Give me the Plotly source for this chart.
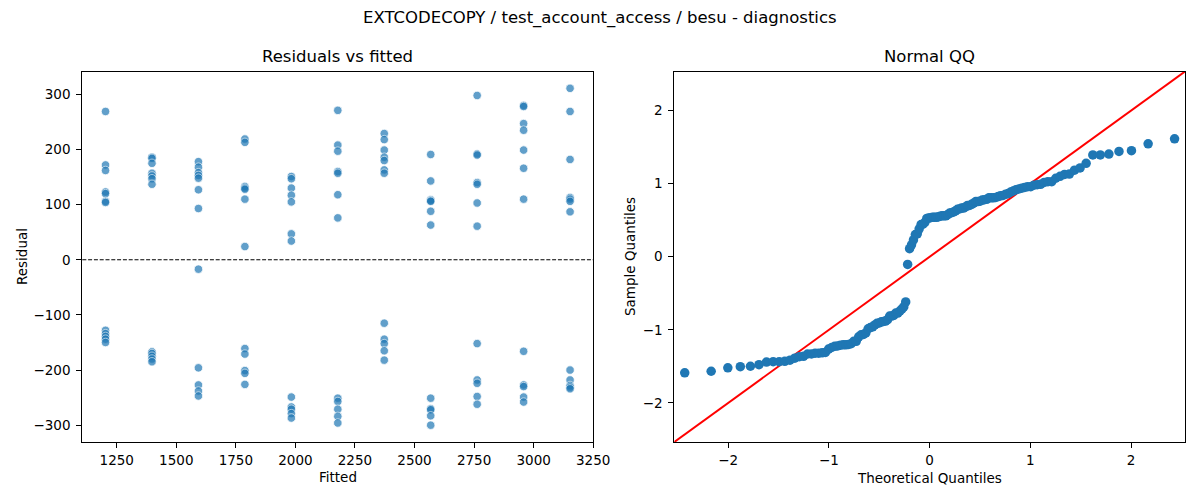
import plotly.graph_objects as go
from statistics import NormalDist, mean, pstdev

# ---- data ----
fitted_levels = [1203, 1398, 1593, 1788, 1983, 2178, 2373, 2568, 2763, 2958, 3153]

r01 = [269, 172, 162, 123, 120, 106, 104, -128, -134, -139, -144, -150]
r02 = [186, 184, 175, 157, 152, 147, 137, -167, -170, -175, -180, -185]
r03 = [178, 168, 158, 153, 148, 127, 93, -17, -196, -227, -238, -247]
r04 = [219, 213, 133, 130, 128, 110, 24, -161, -171, -201, -206, -226]
r05 = [151, 147, 130, 117, 105, 47, 34, -249, -267, -271, -279, -287]
r06 = [271, 208, 197, 160, 157, 118, 76, -251, -257, -271, -284, -296]
r07 = [229, 218, 199, 186, 180, 163, 157, -115, -144, -152, -165, -182]
r08 = [191, 143, 109, 107, 106, 88, 63, -251, -270, -272, -283, -300]
r09 = [298, 192, 190, 140, 137, 103, 61, -152, -218, -224, -248, -262]
r10 = [280, 278, 247, 235, 199, 166, 110, -166, -227, -230, -249, -258]
r11 = [311, 269, 182, 113, 110, 106, 87, -200, -218, -228, -231, -234]

residual_groups = [r01, r02, r03, r04, r05, r06, r07, r08, r09, r10, r11]

left_x_ticks = [1250, 1500, 1750, 2000, 2250, 2500, 2750, 3000, 3250]
left_y_ticks = [-300, -200, -100, 0, 100, 200, 300]
qq_ticks = [-2, -1, 0, 1, 2]

# ---- combine ----
fitted = []
residuals = []
for lvl, grp in zip(fitted_levels, residual_groups):
    fitted += [lvl] * len(grp)
    residuals += grp

# QQ (statsmodels-style: positions i/(n+1), standardized sample)
n = len(residuals)
nd = NormalDist()
theo = [nd.inv_cdf(i / (n + 1)) for i in range(1, n + 1)]
mu = mean(residuals)
sd = pstdev(residuals)
sample = [(v - mu) / sd for v in sorted(residuals)]

qq_lim = 2.535

# page body has an 8px margin: lay the figure out in screen pixels minus that offset
OFF = 8
W, H = 1200 - 2 * OFF, 500 - 2 * OFF
def px(x):
    return (x - OFF) / W
def py(y):
    return 1 - (y - OFF) / H

dom_left = [px(82.3), px(593.3)]
dom_right = [px(674.3), px(1185)]
dom_y = [py(442), py(71.5)]

FONT = "DejaVu Sans"
fig = go.Figure()

fig.add_trace(go.Scatter(
    x=fitted, y=residuals, mode="markers",
    marker=dict(color="#1f77b4", size=8.5, opacity=0.7,
                line=dict(color="white", width=0.8)),
    xaxis="x", yaxis="y", showlegend=False, hoverinfo="skip"))

fig.add_trace(go.Scatter(
    x=[-qq_lim, qq_lim], y=[-qq_lim, qq_lim], mode="lines",
    line=dict(color="red", width=2),
    xaxis="x2", yaxis="y2", showlegend=False, hoverinfo="skip"))

fig.add_trace(go.Scatter(
    x=theo, y=sample, mode="markers",
    marker=dict(color="#1f77b4", size=9.5, line=dict(width=0)),
    xaxis="x2", yaxis="y2", showlegend=False, hoverinfo="skip"))

axis_common = dict(
    showline=True, linecolor="black", linewidth=1.1, mirror=True,
    ticks="outside", ticklen=5, tickwidth=1.1, tickcolor="black",
    showgrid=False, zeroline=False, automargin=False,
    tickfont=dict(family=FONT, size=13.5, color="black"),
)

fig.update_layout(
    template="none",
    width=W, height=H,
    margin=dict(l=0, r=0, t=0, b=0, pad=0),
    paper_bgcolor="white", plot_bgcolor="white",
    font=dict(family=FONT, color="black"),
    xaxis=dict(domain=dom_left, range=[1105.5, 3250.5], ticklabelstandoff=1,
               tickvals=left_x_ticks, anchor="y", **axis_common),
    yaxis=dict(domain=dom_y, range=[-330.5, 341.5], ticklabelstandoff=3,
               tickvals=left_y_ticks, anchor="x", **axis_common),
    xaxis2=dict(domain=dom_right, range=[-qq_lim, qq_lim], ticklabelstandoff=1,
                tickvals=qq_ticks, anchor="y2", **axis_common),
    yaxis2=dict(domain=dom_y, range=[-qq_lim, qq_lim], ticklabelstandoff=3,
                tickvals=qq_ticks, anchor="x2", **axis_common),
)

fig.add_shape(type="line", xref="x domain", yref="y", x0=0, x1=1, y0=0, y1=0,
              line=dict(color="black", width=1.1, dash="4px,1.8px"))

def ann(text, x, y, size, angle=0):
    fig.add_annotation(text=text, x=px(x), y=py(y), xref="paper", yref="paper",
                       showarrow=False, xanchor="center", yanchor="middle",
                       textangle=angle, font=dict(family=FONT, size=size, color="black"))

ann("EXTCODECOPY / test_account_access / besu - diagnostics", 600, 18, 16.5)
ann("Residuals vs fitted", (82.3 + 593.3) / 2, 56, 16.5)
ann("Normal QQ", (674.3 + 1185) / 2, 56, 16.5)
ann("Fitted", (82.3 + 593.3) / 2, 477, 13.5)
ann("Theoretical Quantiles", (674.3 + 1185) / 2, 478, 13.5)
ann("Residual", 22, 257, 13.5, -90)
ann("Sample Quantiles", 630, 257, 13.5, -90)

fig.write_html("out.html")
